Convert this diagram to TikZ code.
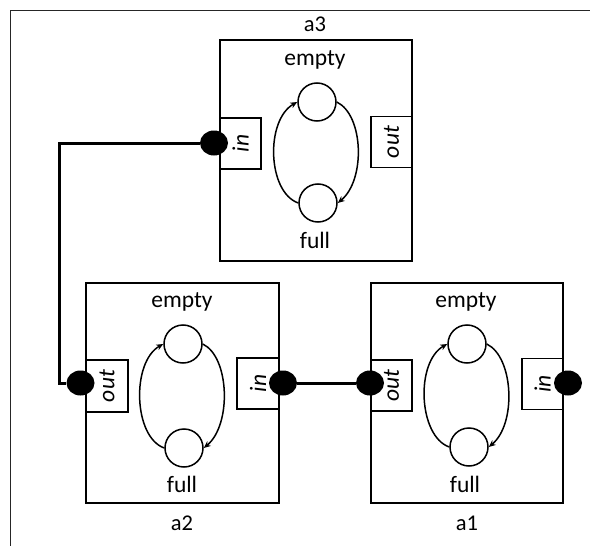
\documentclass[tikz,border=0pt]{standalone}
\usepackage{fontspec}
\setmainfont{Carlito}
\usetikzlibrary{arrows.meta,shapes.geometric}
\begin{document}
\begin{tikzpicture}[x=1pt,y=-1pt,
  module/.style={draw,line width=1.9pt,minimum width=192pt,minimum height=221pt,inner sep=0pt},
  port/.style={draw,line width=1.6pt,fill=white,minimum width=41pt,minimum height=51pt,inner sep=0pt},
  porttext/.style={rotate=90,font=\fontsize{23.5}{26}\selectfont\itshape,inner sep=0pt},
  place/.style={circle,draw,line width=1.5pt,minimum size=38pt,inner sep=0pt},
  dot/.style={ellipse,fill=black,minimum width=28pt,minimum height=25pt,inner sep=0pt},
  txt/.style={font=\fontsize{23.5}{26}\selectfont,inner sep=0pt},
  lbl/.style={font=\fontsize{22.5}{26}\selectfont,inner sep=0pt},
  wire/.style={line width=3pt},
  arc/.style={line width=1.5pt,-{Stealth[length=7pt,width=6pt]}},
  frame/.style={line width=1pt,draw=black!85}]
\useasboundingbox (0,0) rectangle (590,546);
\draw[frame] (10,546) -- (10,10) -- (590,10);

% module a3
\node[module] (m3) at (316,150.5) {};
\node[lbl] (l3) at (315,24) {a3};
\node[port] (p3in) at (240.5,143.5) {};
\node[porttext] (t3in) at (p3in) {in};
\node[port] (p3out) at (391.5,142) {};
\node[porttext] (t3out) at (p3out) {out};
\node[place] (e3) at (317,102) {};
\node[place] (f3) at (318,203) {};
\node[txt] (te3) at (315,60) {empty};
\node[txt] (tf3) at (315,240) {full};
\draw[arc] (f3.west) .. controls +(-31,-11) and +(-32,18) .. (e3.west);
\draw[arc] (e3.east) .. controls +(27,13) and +(28,-23) .. (f3.east);

% module a2
\node[module,minimum width=193pt,minimum height=220pt] (m2) at (182.5,393) {};
\node[lbl] (l2) at (182,523) {a2};
\node[port,minimum width=42pt,minimum height=52pt] (p2out) at (107,386) {};
\node[porttext] (t2out) at (p2out) {out};
\node[port,minimum width=42pt] (p2in) at (258,383.5) {};
\node[porttext] (t2in) at (p2in) {in};
\node[place] (e2) at (183,344) {};
\node[place] (f2) at (184,448) {};
\node[txt] (te2) at (182,302) {empty};
\node[txt] (tf2) at (182,484) {full};
\draw[arc] (f2.west) .. controls +(-31,-11) and +(-32,18) .. (e2.west);
\draw[arc] (e2.east) .. controls +(27,13) and +(28,-23) .. (f2.east);

% module a1
\node[module,minimum height=220pt] (m1) at (467,393) {};
\node[lbl] (l1) at (467,523) {a1};
\node[port] (p1out) at (391.5,385.5) {};
\node[porttext] (t1out) at (p1out) {out};
\node[port] (p1in) at (542.5,384) {};
\node[porttext] (t1in) at (p1in) {in};
\node[place] (e1) at (467,344) {};
\node[place] (f1) at (469,447) {};
\node[txt] (te1) at (466,302) {empty};
\node[txt] (tf1) at (465,484) {full};
\draw[arc] (f1.west) .. controls +(-31,-11) and +(-32,18) .. (e1.west);
\draw[arc] (e1.east) .. controls +(27,13) and +(28,-23) .. (f1.east);

% connection dots
\node[dot] (d3in) at (214,143) {};
\node[dot] (d2out) at (80.5,383) {};
\node[dot] (d2in) at (283,383) {};
\node[dot] (d1out) at (370,383) {};
\node[dot] (d1in) at (568,383) {};

% wires
\coordinate (wx) at (59,260);
\draw[wire] (d2out) -| (wx) |- (d3in);
\draw[wire] (d2in) -- (d1out);
\end{tikzpicture}
\end{document}
